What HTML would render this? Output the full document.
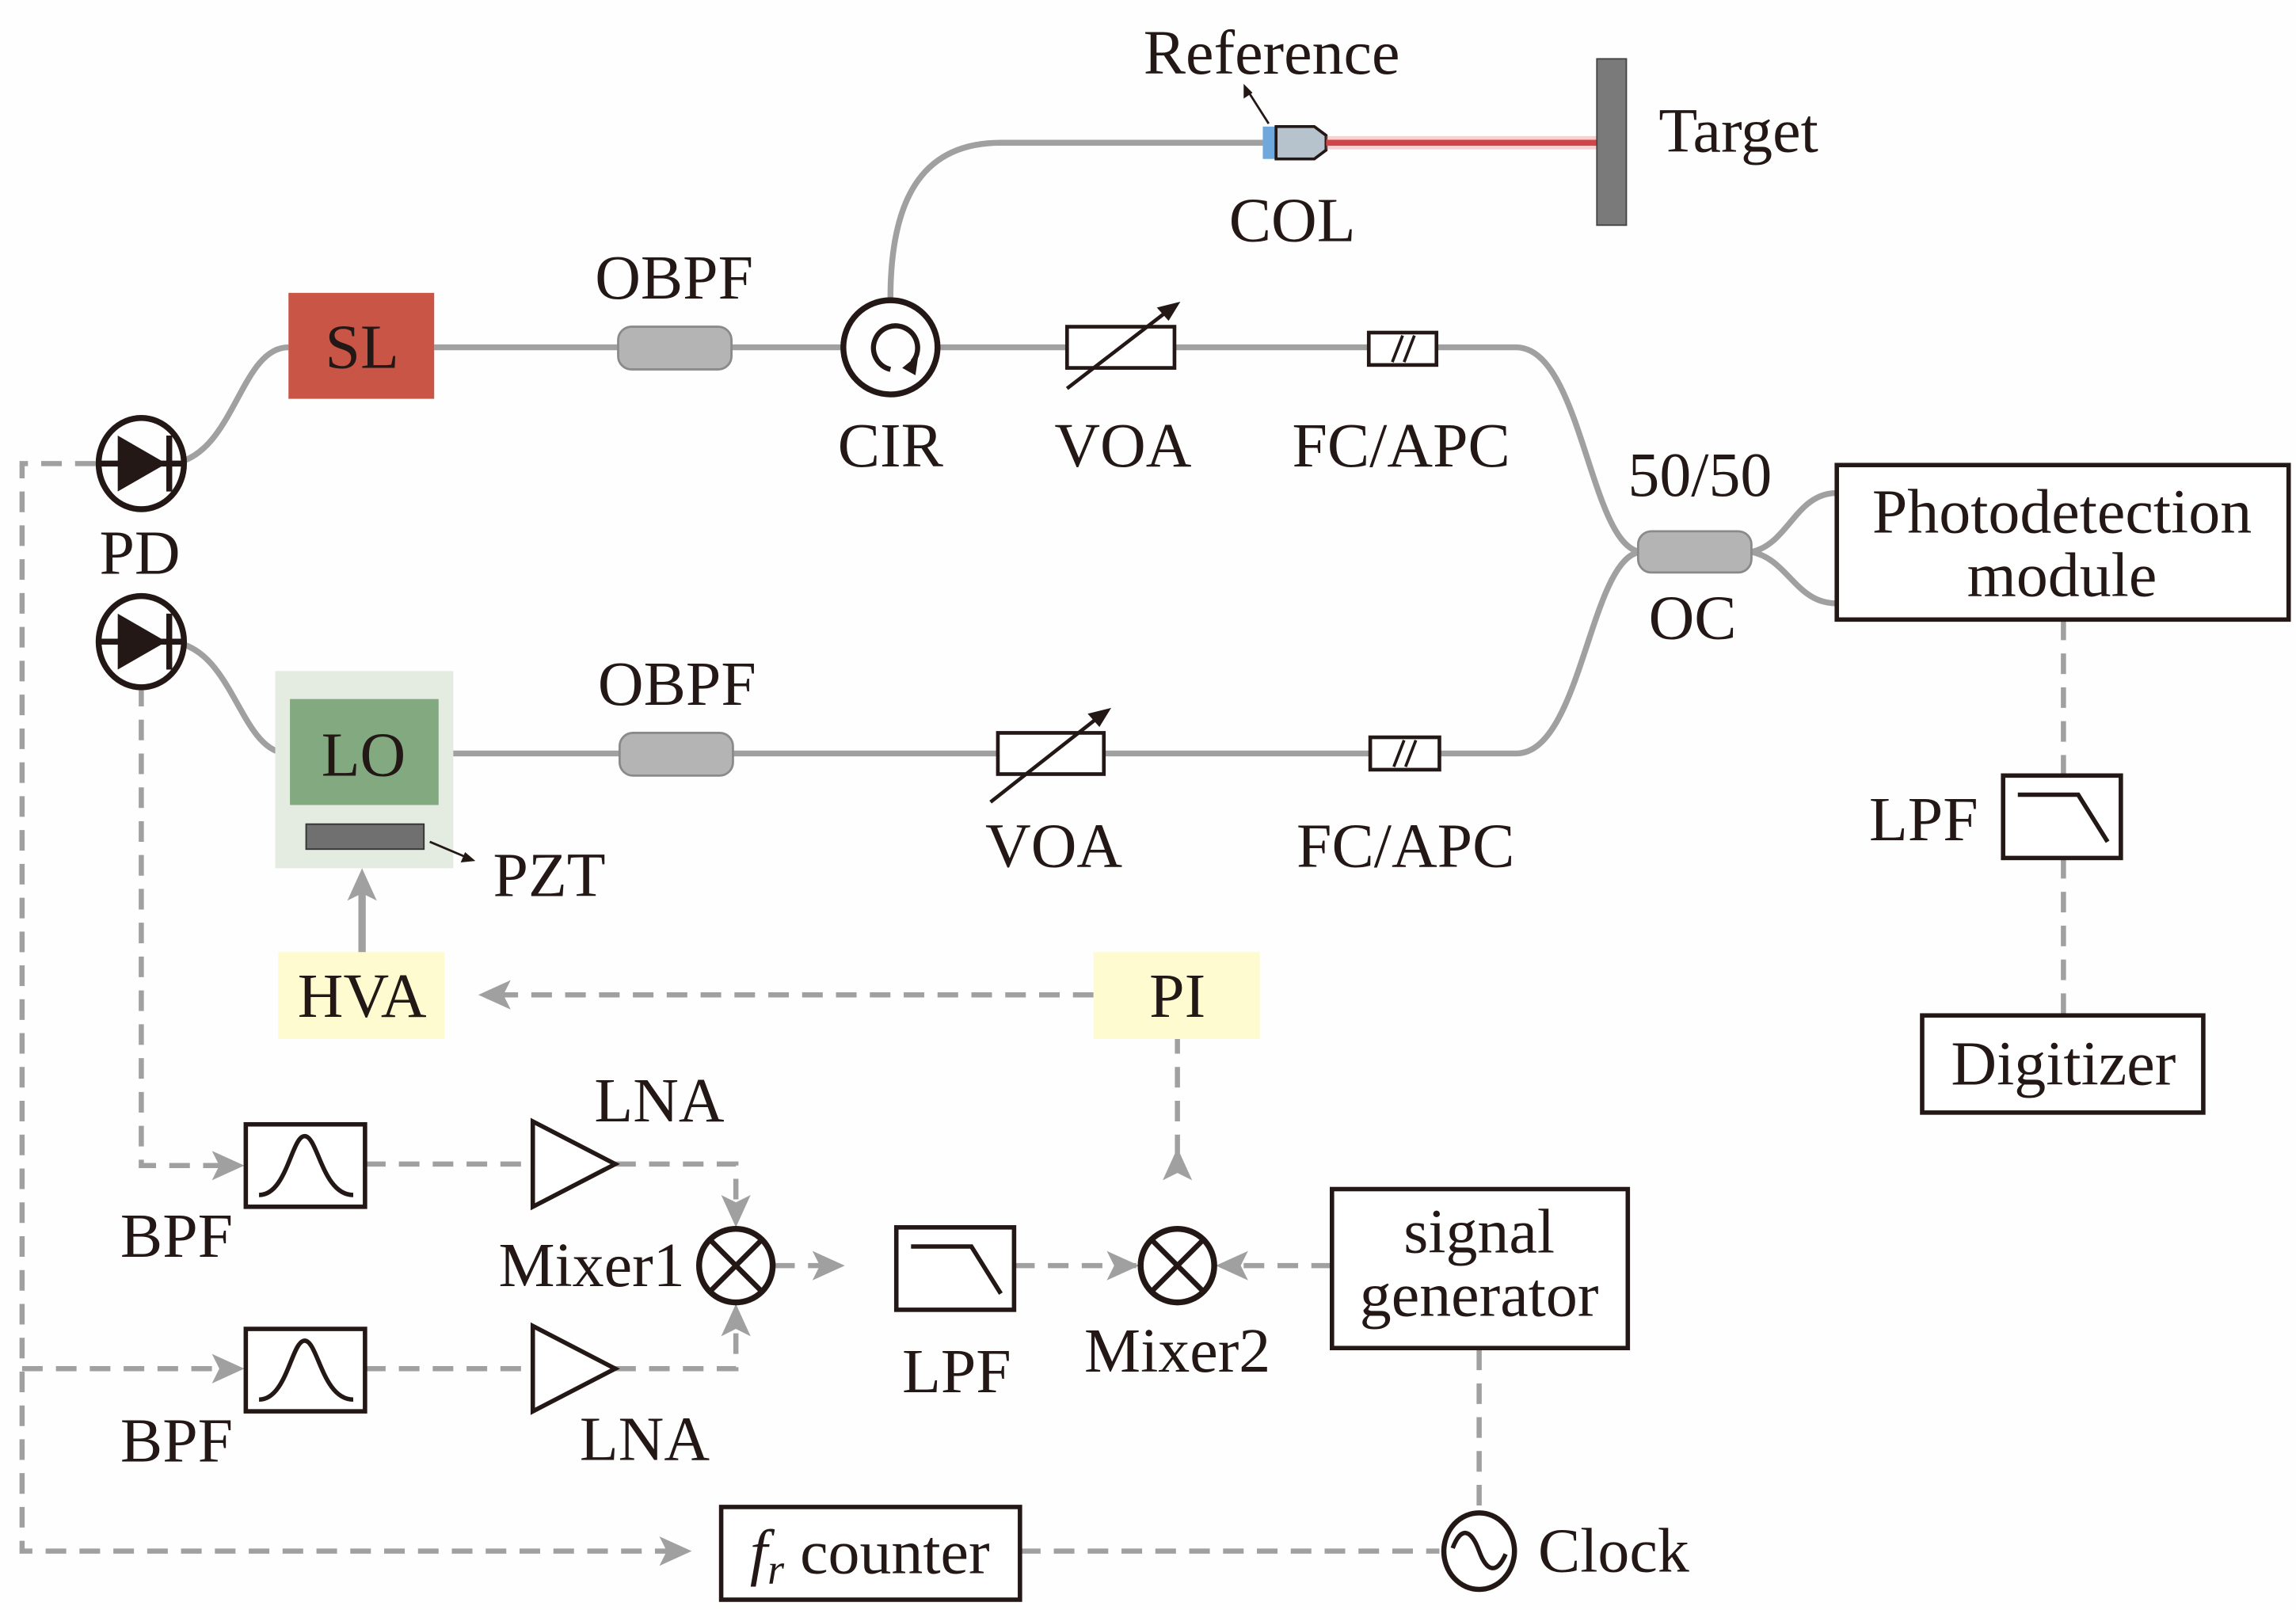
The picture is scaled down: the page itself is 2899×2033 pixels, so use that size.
<!DOCTYPE html>
<html><head><meta charset="utf-8"><style>
html,body{margin:0;padding:0;background:#fff}
svg{display:block}
text{font-family:"Liberation Serif",serif;fill:#231815;font-size:43px}
</style></head><body>
<svg width="2899" height="2033" viewBox="0 0 1560 1094" xmlns="http://www.w3.org/2000/svg">
<rect width="1560" height="1094" fill="#fefefe"/>
<g fill="none" stroke="#a0a0a0" stroke-width="4">
<path d="M125,313 C160,300 165,236 196,236"/>
<path d="M295,236 H420 M497,236 H572 M638,236 H725 M798,236 H930 M976,236 H1030 C1075,236 1080,372 1115,375"/>
<path d="M605,203 C605,130 630,97 680,97 H858"/>
<path d="M125,438 C160,450 165,512 196,512"/>
<path d="M298,512 H421 M498,512 H678 M750,512 H931 M978,512 H1030 C1075,512 1080,378 1115,375"/>
<path d="M1190,375 C1215,370 1220,335 1248,335 M1190,375 C1215,380 1220,410 1248,410"/>
</g>
<g fill="none" stroke="#a0a0a0" stroke-width="3.5" stroke-dasharray="14,9">
<path d="M65,315 H15 V1054 H465"/>
<path d="M15,930 H160"/>
<path d="M96,466 V792 H160"/>
<path d="M248,791 H362 M418,791 H500 V826"/>
<path d="M248,930 H362 M418,930 H500 V894"/>
<path d="M526,860 H568 M689,860 H773"/>
<path d="M905,860 H830"/>
<path d="M800,785 V706"/>
<path d="M743,676 H330"/>
<path d="M1402,421 V527 M1402,583 V690"/>
<path d="M1005,917 V1028 M693,1054 H978"/>
</g>
<g fill="#a0a0a0">
<path d="M166,792 l-22,-10 l5,10 l-5,10 z"/>
<path d="M166,930 l-22,-10 l5,10 l-5,10 z"/>
<path d="M470,1054 l-22,-10 l5,10 l-5,10 z"/>
<path d="M500,834 l-10,-22 l10,5 l10,-5 z"/>
<path d="M500,886 l-10,22 l10,-5 l10,5 z"/>
<path d="M574,860 l-22,-10 l5,10 l-5,10 z"/>
<path d="M774,860 l-22,-10 l5,10 l-5,10 z"/>
<path d="M826,860 l22,-10 l-5,10 l5,10 z"/>
<path d="M800,780 l-10,22 l10,-5 l10,5 z"/>
<path d="M325,676 l22,-10 l-5,10 l5,10 z"/>
<path d="M246,590 l-10,22 l10,-5 l10,5 z"/>
</g>
<line x1="246" y1="647" x2="246" y2="605" stroke="#a0a0a0" stroke-width="5"/>
<rect x="858" y="86" width="9" height="22" fill="#6fa8dc"/>
<path d="M867,86 H893 L901,92 V102 L893,108 H867 Z" fill="#b7c3cc" stroke="#231815" stroke-width="2"/>
<line x1="901" y1="97" x2="1085" y2="97" stroke="#c4262b" stroke-width="4"/>
<line x1="901" y1="97" x2="1085" y2="97" stroke="#e88080" stroke-width="9" opacity="0.35"/>
<rect x="1085" y="40" width="20" height="113" fill="#7a7a7a" stroke="#444" stroke-width="1"/>
<line x1="862" y1="84" x2="848" y2="62" stroke="#231815" stroke-width="1.5"/>
<path d="M845,57 l0,10 l6,-4 z" fill="#231815"/>
<text x="864" y="50" text-anchor="middle">Reference</text>
<text x="1127" y="103">Target</text>
<text x="878" y="164" text-anchor="middle">COL</text>
<rect x="196" y="199" width="99" height="72" fill="#c85545"/>
<text x="246" y="250" text-anchor="middle">SL</text>
<rect x="420" y="222" width="77" height="29" rx="9" fill="#b4b4b4" stroke="#8a8a8a" stroke-width="1.5"/>
<rect x="421" y="498" width="77" height="29" rx="9" fill="#b4b4b4" stroke="#8a8a8a" stroke-width="1.5"/>
<text x="458" y="203" text-anchor="middle">OBPF</text>
<text x="460" y="479" text-anchor="middle">OBPF</text>
<circle cx="605" cy="236" r="32" fill="none" stroke="#231815" stroke-width="4"/>
<path d="M620,246 A15,15 0 1 0 605,251" fill="none" stroke="#231815" stroke-width="3.5"/>
<path d="M624,241 l-2,14 l-9,-5 z" fill="#231815"/>
<text x="605" y="317" text-anchor="middle">CIR</text>
<rect x="725" y="222" width="73" height="28" fill="#fff" stroke="#231815" stroke-width="2.5"/>
<line x1="725" y1="264" x2="795" y2="210" stroke="#231815" stroke-width="2.5"/>
<path d="M802,205 l-16,4 l8,9 z" fill="#231815"/>
<text x="763" y="317" text-anchor="middle">VOA</text>
<rect x="678" y="498" width="72" height="28" fill="#fff" stroke="#231815" stroke-width="2.5"/>
<line x1="673" y1="545" x2="748" y2="486" stroke="#231815" stroke-width="2.5"/>
<path d="M755,481 l-16,4 l8,9 z" fill="#231815"/>
<text x="716" y="589" text-anchor="middle">VOA</text>
<rect x="930" y="226" width="46" height="22" fill="#fff" stroke="#231815" stroke-width="2.5"/>
<path d="M946,246 L953,228 M954,246 L961,228" stroke="#231815" stroke-width="2"/>
<text x="952" y="317" text-anchor="middle">FC/APC</text>
<rect x="931" y="501" width="47" height="22" fill="#fff" stroke="#231815" stroke-width="2.5"/>
<path d="M947,521 L954,503 M955,521 L962,503" stroke="#231815" stroke-width="2"/>
<text x="955" y="589" text-anchor="middle">FC/APC</text>
<rect x="1113" y="361" width="77" height="28" rx="9" fill="#b4b4b4" stroke="#8a8a8a" stroke-width="1.5"/>
<text x="1155" y="337" text-anchor="middle">50/50</text>
<text x="1150" y="434" text-anchor="middle">OC</text>
<rect x="1248" y="316" width="307" height="105" fill="#fff" stroke="#231815" stroke-width="3"/>
<text x="1401" y="362" text-anchor="middle">Photodetection</text>
<text x="1401" y="405" text-anchor="middle">module</text>
<rect x="1361" y="527" width="80" height="56" fill="#fff" stroke="#231815" stroke-width="3"/>
<path d="M1371,540 H1412 L1432,572" fill="none" stroke="#231815" stroke-width="3"/>
<text x="1307" y="571" text-anchor="middle">LPF</text>
<rect x="1306" y="690" width="191" height="66" fill="#fff" stroke="#231815" stroke-width="3"/>
<text x="1402" y="737" text-anchor="middle">Digitizer</text>
<g stroke="#231815" stroke-width="4" fill="none">
<ellipse cx="96" cy="315" rx="29" ry="31"/>
<ellipse cx="96" cy="436" rx="29" ry="31"/>
<path d="M67,315 H125 M115,296 V334 M67,436 H125 M115,417 V455"/>
</g>
<path d="M80,296 L113,315 L80,334 Z M80,417 L113,436 L80,455 Z" fill="#231815"/>
<text x="95" y="390" text-anchor="middle">PD</text>
<rect x="187" y="456" width="121" height="134" fill="#e4ebe1"/>
<rect x="197" y="475" width="101" height="72" fill="#82a97f"/>
<text x="247" y="527" text-anchor="middle">LO</text>
<rect x="208" y="560" width="80" height="17" fill="#707070" stroke="#333" stroke-width="1"/>
<line x1="292" y1="572" x2="318" y2="583" stroke="#231815" stroke-width="1.5"/>
<path d="M323,585 l-10,1 l3,-7 z" fill="#231815"/>
<text x="335" y="609">PZT</text>
<rect x="189" y="647" width="113" height="59" fill="#fffbd0"/>
<text x="246" y="691" text-anchor="middle">HVA</text>
<rect x="743" y="647" width="113" height="59" fill="#fffbd0"/>
<text x="800" y="691" text-anchor="middle">PI</text>
<g stroke="#231815" stroke-width="3" fill="#fff">
<rect x="167" y="764" width="81" height="56"/>
<rect x="167" y="903" width="81" height="56"/>
</g>
<g stroke="#231815" stroke-width="3" fill="none">
<path d="M176,812 C195,812 198,772 207,772 C216,772 219,812 240,812"/>
<path d="M176,951 C195,951 198,911 207,911 C216,911 219,951 240,951"/>
</g>
<text x="120" y="854" text-anchor="middle">BPF</text>
<text x="120" y="993" text-anchor="middle">BPF</text>
<path d="M362,762 L418,791 L362,820 Z M362,901 L418,930 L362,959 Z" fill="#fff" stroke="#231815" stroke-width="3"/>
<text x="448" y="762" text-anchor="middle">LNA</text>
<text x="438" y="992" text-anchor="middle">LNA</text>
<g stroke="#231815" stroke-width="4" fill="#fff">
<circle cx="500" cy="860" r="25"/>
<circle cx="800" cy="860" r="25"/>
</g>
<path d="M482,842 L518,878 M518,842 L482,878 M782,842 L818,878 M818,842 L782,878" stroke="#231815" stroke-width="3.5"/>
<text x="402" y="874" text-anchor="middle">Mixer1</text>
<text x="800" y="932" text-anchor="middle">Mixer2</text>
<rect x="609" y="834" width="80" height="56" fill="#fff" stroke="#231815" stroke-width="3"/>
<path d="M619,847 H660 L680,879" fill="none" stroke="#231815" stroke-width="3"/>
<text x="650" y="946" text-anchor="middle">LPF</text>
<rect x="905" y="808" width="201" height="108" fill="#fff" stroke="#231815" stroke-width="3"/>
<text x="1005" y="851" text-anchor="middle">signal</text>
<text x="1005" y="894" text-anchor="middle">generator</text>
<ellipse cx="1005" cy="1054" rx="24" ry="26" fill="#fff" stroke="#231815" stroke-width="3.5"/>
<path d="M987,1052 C993,1036 1000,1040 1005,1054 C1010,1068 1017,1070 1023,1056" fill="none" stroke="#231815" stroke-width="3"/>
<text x="1045" y="1068">Clock</text>
<rect x="490" y="1024" width="203" height="63" fill="#fff" stroke="#231815" stroke-width="3"/>
<text x="591" y="1069" text-anchor="middle"><tspan font-style="italic">f</tspan><tspan font-style="italic" font-size="29" dy="7">r</tspan><tspan dy="-7"> counter</tspan></text>
</svg>
</body></html>
